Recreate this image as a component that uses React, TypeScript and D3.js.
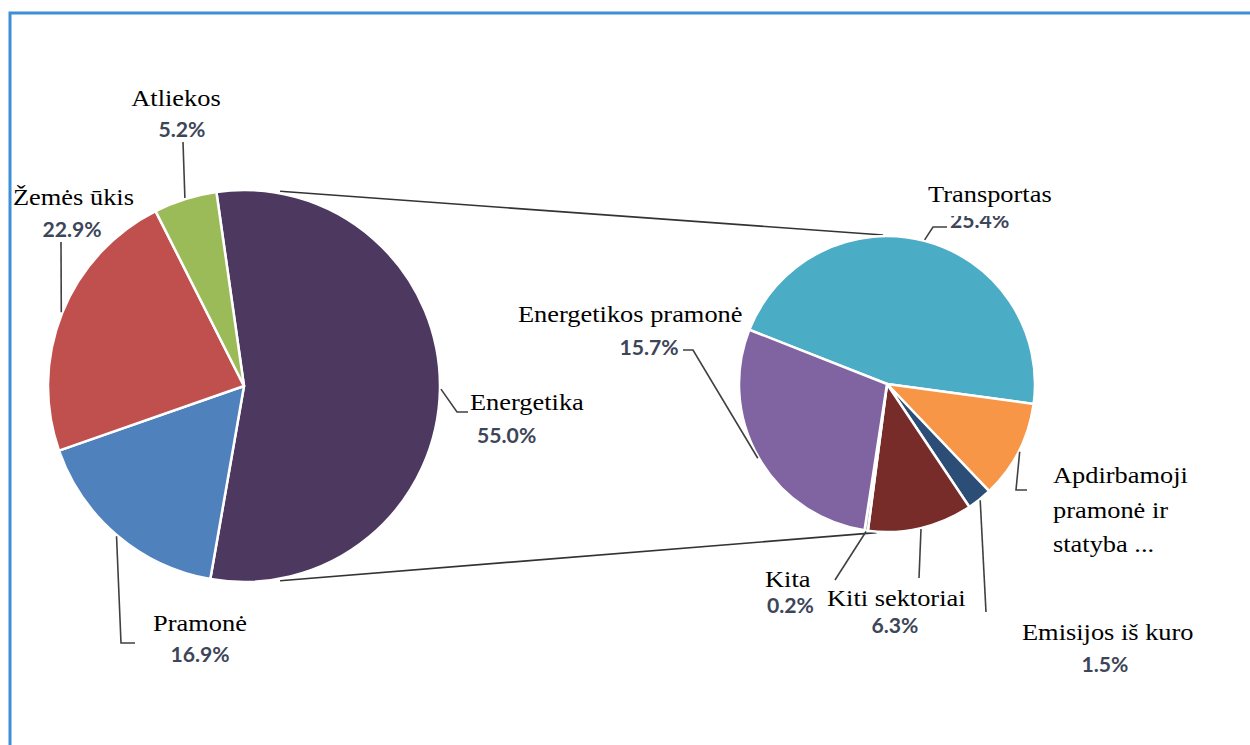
import { useEffect, useRef } from 'react'
import * as d3 from 'd3'

// Main pie (share of total emissions)
const leftLabels = ['Energetika', 'Pramonė', 'Žemės ūkis', 'Atliekos']
const leftValues = [55.0, 16.9, 22.9, 5.2]
const leftColors = ['#4d3960', '#4f81bd', '#c0504d', '#9bbb59']

// Secondary pie (Energetika broken down, % of total)
const rightLabels = ['Transportas', 'Apdirbamoji pramonė ir statyba ...', 'Emisijos iš kuro', 'Kiti sektoriai', 'Kita', 'Energetikos pramonė']
const rightValues = [25.4, 5.9, 1.5, 6.3, 0.2, 15.7]
const rightShown = ['25.4%', '', '1.5%', '6.3%', '0.2%', '15.7%']
const rightColors = ['#4bacc6', '#f79646', '#2c4d75', '#772c2a', '#a5a5a5', '#8064a2']

const deg = Math.PI / 180

interface LabelLayout {
  lines: string[]
  nx: number; ny: number; nAnchor: string
  px?: number; py?: number; pAnchor?: string
  leader: [number, number][]
}

const LEFT_LAYOUT: LabelLayout[] = [
  { lines: ['Energetika'], nx: 470, ny: 410, nAnchor: 'start', px: 477, py: 443, pAnchor: 'start', leader: [[457, 412], [468, 412]] },
  { lines: ['Pramonė'], nx: 200, ny: 631, nAnchor: 'middle', px: 200, py: 662, pAnchor: 'middle', leader: [[121, 643], [135, 643]] },
  { lines: ['Žemės ūkis'], nx: 13, ny: 205, nAnchor: 'start', px: 72, py: 237, pAnchor: 'middle', leader: [[61, 242]] },
  { lines: ['Atliekos'], nx: 176, ny: 106, nAnchor: 'middle', px: 182, py: 137, pAnchor: 'middle', leader: [[183, 142]] },
]

const RIGHT_LAYOUT: LabelLayout[] = [
  { lines: ['Transportas'], nx: 928, ny: 202, nAnchor: 'start', px: 950, py: 228, pAnchor: 'start', leader: [[933, 227], [947, 227]] },
  { lines: ['Apdirbamoji', 'pramonė ir', 'statyba ...'], nx: 1053, ny: 483, nAnchor: 'start', leader: [[1016, 490], [1027, 490]] },
  { lines: ['Emisijos iš kuro'], nx: 1022, ny: 640, nAnchor: 'start', px: 1105, py: 672, pAnchor: 'middle', leader: [[986, 612]] },
  { lines: ['Kiti sektoriai'], nx: 827, ny: 606, nAnchor: 'start', px: 895, py: 633, pAnchor: 'middle', leader: [[919, 578]] },
  { lines: ['Kita'], nx: 765, ny: 587, nAnchor: 'start', px: 767, py: 613, pAnchor: 'start', leader: [[835, 580]] },
  { lines: ['Energetikos pramonė'], nx: 518, ny: 322, nAnchor: 'start', px: 649, py: 355, pAnchor: 'middle', leader: [[693, 350], [683, 350]] },
]

export default function App() {
  const ref = useRef<SVGSVGElement>(null)

  useEffect(() => {
    if (!ref.current) return
    const svg = d3.select(ref.current)
    svg.selectAll('*').remove()

    const width = 1250
    const height = 745
    svg.attr('width', width).attr('height', height).attr('viewBox', `0 0 ${width} ${height}`)
    svg.append('rect').attr('width', width).attr('height', height).attr('fill', '#fff')

    // frame
    svg.append('path')
      .attr('d', `M10,${height} L10,13 L${width},13`)
      .attr('fill', 'none').attr('stroke', '#3d8fd6').attr('stroke-width', 3)

    const L = { cx: 244, cy: 386, r: 196, start: -8.1 * deg }
    const R = { cx: 887, cy: 384, r: 148, start: -68.5 * deg }

    const pt = (c: typeof L, a: number, r: number): [number, number] =>
      [c.cx + r * Math.sin(a), c.cy - r * Math.cos(a)]

    // connector lines between the two pies
    const line = d3.line()
    const connectors: [[number, number], [number, number]][] = [
      [pt(L, 10.5 * deg, L.r + 2), pt(R, -1.5 * deg, R.r + 1)],
      [pt(L, 169.5 * deg, L.r + 2), pt(R, 184 * deg, R.r + 1)],
    ]
    connectors.forEach(c => {
      svg.append('path').attr('d', line(c)).attr('fill', 'none')
        .attr('stroke', '#333').attr('stroke-width', 1.6)
    })

    const drawPie = (c: typeof L, values: number[], colors: string[]) => {
      const pie = d3.pie<number>().sort(null).value(d => d)
        .startAngle(c.start).endAngle(c.start + 2 * Math.PI)
      const arcs = pie(values)
      const arc = d3.arc<d3.PieArcDatum<number>>().innerRadius(0).outerRadius(c.r)
      svg.append('g').attr('transform', `translate(${c.cx},${c.cy})`)
        .selectAll('path').data(arcs).join('path')
        .attr('d', arc)
        .attr('fill', (_, i) => colors[i])
        .attr('stroke', '#fff').attr('stroke-width', 2.5).attr('stroke-linejoin', 'round')
      return arcs
    }

    const leftArcs = drawPie(L, leftValues, leftColors)
    const rightArcs = drawPie(R, rightValues, rightColors)

    const drawLabels = (c: typeof L, arcs: d3.PieArcDatum<number>[], layout: LabelLayout[], pcts: string[]) => {
      arcs.forEach((a, i) => {
        const lay = layout[i]
        const mid = (a.startAngle + a.endAngle) / 2
        const pts: [number, number][] = [pt(c, mid, c.r + 1), ...lay.leader]
        svg.append('path').attr('d', line(pts)).attr('fill', 'none')
          .attr('stroke', '#404040').attr('stroke-width', 1.6)

        if (lay.px !== undefined && pcts[i]) {
          svg.append('text')
            .attr('transform', `translate(${lay.px},${lay.py}) scale(1.06,1)`)
            .attr('text-anchor', lay.pAnchor!)
            .attr('font-family', 'Lato, "Open Sans", sans-serif')
            .attr('font-weight', 700).attr('font-size', '20px')
            .attr('fill', '#3d4558')
            .text(pcts[i])
        }
        if (i === 0 && c === R) {
          // percentage partly hidden behind the title box
          svg.append('rect').attr('x', 925).attr('y', 178).attr('width', 140).attr('height', 38).attr('fill', '#fff')
        }
        lay.lines.forEach((s, k) => {
          svg.append('text')
            .attr('transform', `translate(${lay.nx},${lay.ny + k * 34.5}) scale(1.1,1)`)
            .attr('text-anchor', lay.nAnchor)
            .attr('font-family', '"Liberation Serif", "Times New Roman", serif')
            .attr('font-size', '24px').attr('fill', '#000')
            .text(s)
        })
      })
    }

    drawLabels(L, leftArcs, LEFT_LAYOUT, leftValues.map(v => `${v.toFixed(1)}%`))
    drawLabels(R, rightArcs, RIGHT_LAYOUT, rightShown)
  }, [])

  return (
    <div style={{ position: 'absolute', left: 0, top: 0 }}>
      <svg ref={ref} style={{ display: 'block' }} />
    </div>
  )
}
